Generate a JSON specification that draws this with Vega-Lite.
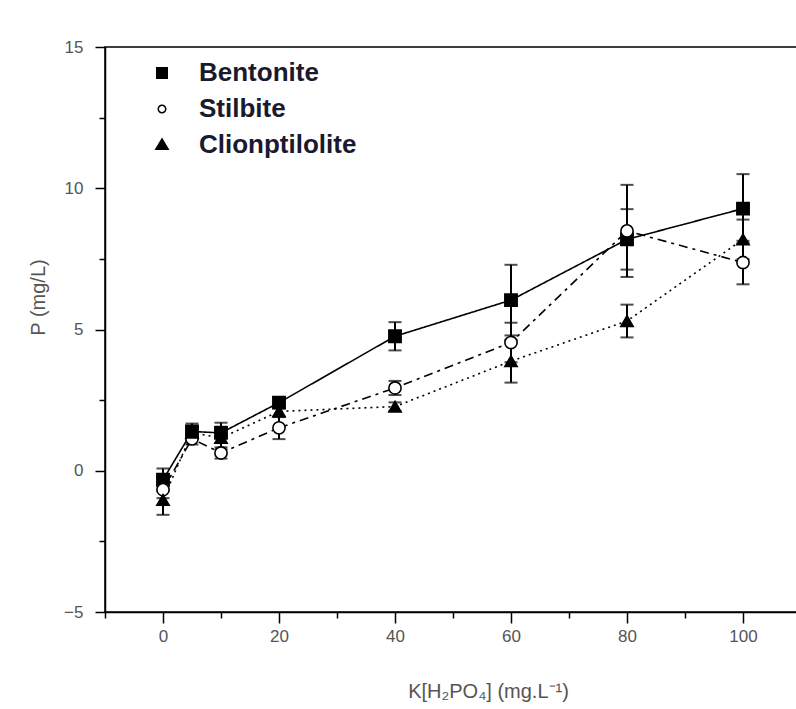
{
  "$schema": "https://vega.github.io/schema/vega-lite/v6.json",
  "autosize": "none",
  "padding": {"left": 105, "top": 47, "right": 0, "bottom": 97},
  "width": 696,
  "height": 565,
  "background": "white",
  "config": {
    "view": {"stroke": "black", "strokeWidth": 1.5},
    "font": "Liberation Sans"
  },
  "data": {
    "values": [
      {"x": 0, "y": -0.32, "err": 0.4, "s": "Bentonite"},
      {"x": 5, "y": 1.39, "err": 0.28, "s": "Bentonite"},
      {"x": 10, "y": 1.34, "err": 0.36, "s": "Bentonite"},
      {"x": 20, "y": 2.41, "err": 0.2, "s": "Bentonite"},
      {"x": 40, "y": 4.76, "err": 0.5, "s": "Bentonite"},
      {"x": 60, "y": 6.04, "err": 1.25, "s": "Bentonite"},
      {"x": 80, "y": 8.19, "err": 1.07, "s": "Bentonite"},
      {"x": 100, "y": 9.28, "err": 1.22, "s": "Bentonite"},
      {"x": 0, "y": -0.67, "err": 0.3, "s": "Stilbite"},
      {"x": 5, "y": 1.13, "err": 0.2, "s": "Stilbite"},
      {"x": 10, "y": 0.63, "err": 0.2, "s": "Stilbite"},
      {"x": 20, "y": 1.52, "err": 0.4, "s": "Stilbite"},
      {"x": 40, "y": 2.93, "err": 0.25, "s": "Stilbite"},
      {"x": 60, "y": 4.54, "err": 0.7, "s": "Stilbite"},
      {"x": 80, "y": 8.49, "err": 1.63, "s": "Stilbite"},
      {"x": 100, "y": 7.37, "err": 0.77, "s": "Stilbite"},
      {"x": 0, "y": -1.03, "err": 0.53, "s": "Clionptilolite"},
      {"x": 5, "y": 1.35, "err": 0.2, "s": "Clionptilolite"},
      {"x": 10, "y": 1.16, "err": 0.4, "s": "Clionptilolite"},
      {"x": 20, "y": 2.1, "err": 0.2, "s": "Clionptilolite"},
      {"x": 40, "y": 2.27, "err": 0.15, "s": "Clionptilolite"},
      {"x": 60, "y": 3.88, "err": 0.76, "s": "Clionptilolite"},
      {"x": 80, "y": 5.3, "err": 0.58, "s": "Clionptilolite"},
      {"x": 100, "y": 8.19, "err": 0.7, "s": "Clionptilolite"}
    ]
  },
  "resolve": {"axis": {"x": "independent", "y": "independent"}},
  "layer": [
    {
      "mark": {"type": "rule", "opacity": 0},
      "encoding": {
        "x": {"field": "x", "type": "quantitative", "scale": {"domain": [-10, 110], "nice": false, "zero": false}, "axis": {"orient": "bottom", "values": [-10, 10, 30, 50, 70, 90, 110], "labels": false, "title": null, "tickSize": 6, "tickColor": "black", "tickWidth": 1.5, "domain": false, "grid": false}},
        "y": {"field": "y", "type": "quantitative", "scale": {"domain": [-5, 15], "nice": false, "zero": false}, "axis": {"orient": "left", "values": [-2.5, 2.5, 7.5, 12.5], "labels": false, "title": null, "tickSize": 6, "tickColor": "black", "tickWidth": 1.5, "domain": false, "grid": false}}
      }
    },
    {
      "encoding": {
        "x": {
          "field": "x", "type": "quantitative",
          "scale": {"domain": [-10, 110], "nice": false, "zero": false},
          "axis": {
            "orient": "bottom",
            "values": [0, 20, 40, 60, 80, 100],
            "title": "K[H₂PO₄] (mg.L⁻¹)",
            "titleFontSize": 20, "titleFontWeight": "normal", "titleColor": "#555",
            "titleX": 383, "titleY": 85, "titleBaseline": "alphabetic", "titleAlign": "center",
            "labelFontSize": 17, "labelColor": "#555", "labelPadding": 5,
            "tickSize": 11, "tickColor": "black", "tickWidth": 1.5,
            "domainColor": "black", "domainWidth": 1.5, "grid": false
          }
        },
        "y": {
          "field": "y", "type": "quantitative",
          "scale": {"domain": [-5, 15], "nice": false, "zero": false},
          "axis": {
            "orient": "left",
            "values": [-5, 0, 5, 10, 15],
            "title": "P   (mg/L)",
            "titleFontSize": 20, "titleFontWeight": "normal", "titleColor": "#555",
            "titleX": -67, "titleY": 250, "titleAngle": -90, "titleBaseline": "middle", "titleAlign": "center",
            "labelFontSize": 17, "labelColor": "#555", "labelPadding": 12,
            "tickSize": 10, "tickColor": "black", "tickWidth": 1.5,
            "domainColor": "black", "domainWidth": 1.5, "grid": false
          }
        }
      },
      "layer": [
        {
          "mark": {"type": "line", "color": "black", "strokeWidth": 1.6},
          "encoding": {
            "detail": {"field": "s"},
            "strokeDash": {
              "field": "s", "type": "nominal",
              "scale": {"domain": ["Bentonite", "Stilbite", "Clionptilolite"], "range": [[1, 0], [9, 5, 3, 5], [2, 4]]},
              "legend": {
                "title": null,
                "orient": "none",
                "legendX": 44,
                "legendY": 13,
                "padding": 0,
                "labelFontSize": 26,
                "labelFontWeight": "bold",
                "labelColor": "#1a1a2e",
                "labelOffset": 24,
                "symbolSize": 400,
                "symbolFillColor": "black",
                "symbolStrokeColor": "black",
                "symbolStrokeWidth": 1.6,
                "symbolOpacity": 1,
                "rowPadding": 10,
                "labelLimit": 400
              }
            }
          }
        },
        {
          "mark": {"type": "point", "filled": true, "fill": "black", "stroke": "black", "strokeWidth": 1.6, "opacity": 0},
          "encoding": {
            "shape": {
              "field": "s", "type": "nominal",
              "scale": {
                "domain": ["Bentonite", "Stilbite", "Clionptilolite"],
                "range": [
                  "M-2.9,0H2.9M-0.6,-0.6H0.6V0.6H-0.6Z",
                  "M-2.9,0H-0.45M0.45,0H1.6M0.45,0A0.45,0.45 0 1 0 -0.45,0A0.45,0.45 0 1 0 0.45,0ZM0.3,0A0.3,0.3 0 1 1 -0.3,0A0.3,0.3 0 1 1 0.3,0Z",
                  "M-2.9,0H2.0M0,-0.75L0.75,0.5H-0.75Z"
                ]
              },
              "legend": {
                "title": null,
                "orient": "none",
                "legendX": 44,
                "legendY": 13,
                "padding": 0,
                "labelFontSize": 26,
                "labelFontWeight": "bold",
                "labelColor": "#1a1a2e",
                "labelOffset": 24,
                "symbolSize": 400,
                "symbolFillColor": "black",
                "symbolStrokeColor": "black",
                "symbolStrokeWidth": 1.6,
                "symbolOpacity": 1,
                "rowPadding": 10,
                "labelLimit": 400
              }
            }
          }
        },
        {
          "mark": {"type": "errorbar", "ticks": {"size": 13, "thickness": 2, "color": "black"}, "rule": {"strokeWidth": 2, "color": "black"}},
          "encoding": {
            "y": {"field": "y", "type": "quantitative", "scale": {"domain": [-5, 15], "nice": false, "zero": false}},
            "yError": {"field": "err"},
            "detail": {"field": "s"}
          }
        },
        {
          "mark": {"type": "point", "filled": false, "stroke": "black", "strokeWidth": 1.6, "size": 150, "opacity": 1},
          "encoding": {
            "detail": {"field": "s"},
            "fill": {"condition": {"test": "datum.s === 'Stilbite'", "value": "white"}, "value": "black"},
            "shape": {
              "condition": [
                {"test": "datum.s === 'Stilbite'", "value": "circle"},
                {"test": "datum.s === 'Clionptilolite'", "value": "triangle-up"}
              ],
              "value": "square"
            }
          }
        }
      ]
    }
  ]
}
